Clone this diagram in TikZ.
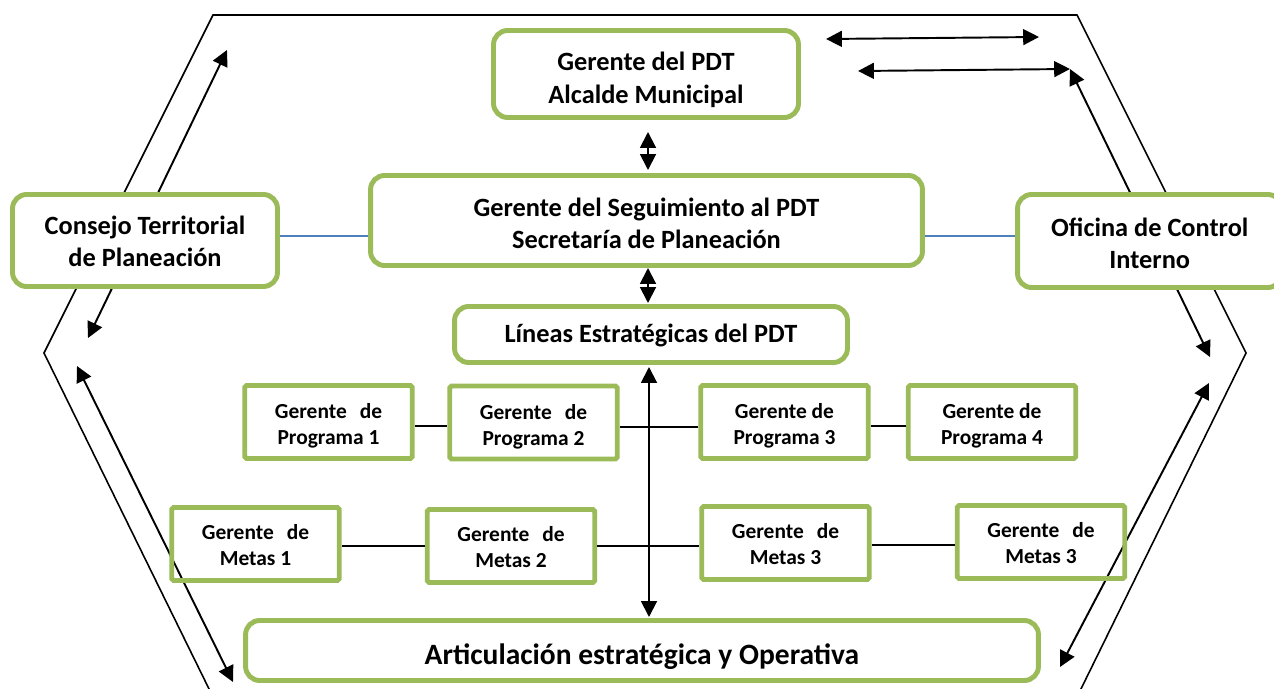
\documentclass[tikz,border=0pt]{standalone}
\usepackage{fontspec}
\setmainfont{Carlito}
\usetikzlibrary{arrows.meta}
\definecolor{gr}{RGB}{155,187,89}
\definecolor{bl}{RGB}{79,129,189}
\newcommand\GerJ{\makebox[61pt][s]{Gerente de}}
\tikzset{
  bigbox/.style={draw=gr, line width=2.8pt, rounded corners=8pt, fill=white, inner sep=0pt},
  smallbox/.style={draw=gr, line width=2.8pt, rounded corners=1pt,
    minimum width=3.35cm, minimum height=1.46cm, inner sep=0pt},
  bigtxt/.style={align=center, inner sep=0pt, font=\fontsize{15}{18.2}\selectfont\bfseries},
  smalltxt/.style={align=center, inner sep=0pt, font=\fontsize{12.2}{14.8}\selectfont\bfseries},
  dbl/.style={line width=1.1pt, {Triangle[width=9pt,length=9pt]}-{Triangle[width=9pt,length=9pt]}},
  hexline/.style={line width=0.9pt},
  link/.style={line width=1.1pt},
  bluelink/.style={line width=1.1pt, draw=bl}
}
\begin{document}
\begin{tikzpicture}[x=0.02cm,y=-0.02cm]
\path[use as bounding box] (0,0) rectangle (1274,689);
\clip (0,0) rectangle (1274,689);

% hexagon
\draw[hexline] (213,15) -- (1077,15) -- (1246,353) -- (1078,695) -- (212,695) -- (44,353) -- cycle;

% diagonal and top arrows
\coordinate (a1s) at (88,338);  \coordinate (a1e) at (227,50);
\coordinate (a2s) at (77,366);  \coordinate (a2e) at (233,682);
\coordinate (a3s) at (1070,69); \coordinate (a3e) at (1210,357);
\coordinate (a4s) at (1209,383); \coordinate (a4e) at (1060,667);
\coordinate (h1s) at (826,39);  \coordinate (h1e) at (1039,37);
\coordinate (h2s) at (858,71);  \coordinate (h2e) at (1070,69);
\draw[dbl] (a1s) -- (a1e);
\draw[dbl] (a2s) -- (a2e);
\draw[dbl] (a3s) -- (a3e);
\draw[dbl] (a4s) -- (a4e);
\draw[dbl] (h1s) -- (h1e);
\draw[dbl] (h2s) -- (h2e);

% big boxes
\node[bigbox, minimum width=6.1cm, minimum height=1.74cm] (pdt) at (646,74) {};
\node[bigbox, minimum width=11.04cm, minimum height=1.8cm] (seg) at (646.5,220.5) {};
\node[bigbox, minimum width=5.3cm, minimum height=1.84cm] (con) at (145,240.5) {};
\node[bigbox, minimum width=5.29cm, minimum height=1.86cm] (ofi) at (1149.75,241) {};
\node[bigbox, minimum width=7.86cm, minimum height=1.12cm] (lin) at (651,334.5) {};
\node[bigbox, minimum width=15.86cm, minimum height=1.2cm] (art) at (642,650.5) {};

\node[bigtxt, font=\fontsize{15}{18.8}\selectfont\bfseries] (pdtT) at ([yshift=-3.4pt]pdt.center) {Gerente del PDT\\Alcalde Municipal};
\node[bigtxt] (segT) at ([yshift=-1.7pt]seg.center) {Gerente del Seguimiento al PDT\\Secretaría de Planeación};
\node[bigtxt] (conT) at ([yshift=-0.6pt]con.center) {Consejo Territorial\\de Planeación};
\node[bigtxt] (ofiT) at ([yshift=-1.1pt]ofi.center) {Oficina de Control\\Interno};
\node[bigtxt] (linT) at ([yshift=-0.8pt]lin.center) {Líneas Estratégicas del PDT};
\node[bigtxt, font=\fontsize{16.8}{19.5}\selectfont\bfseries] (artT) at ([yshift=-3.4pt]art.center) {Articulación estratégica y Operativa};

% small boxes
\node[smallbox] (p1) at (328.5,422) {};
\node[smallbox] (p2) at (533.5,422.5) {};
\node[smallbox] (p3) at (784.5,422) {};
\node[smallbox] (p4) at (992,422) {};
\node[smallbox] (m1) at (255.5,544) {};
\node[smallbox] (m2) at (511,546) {};
\node[smallbox] (m3) at (785.5,543) {};
\node[smallbox] (m4) at (1041,542) {};

\node[smalltxt] (p1T) at ([yshift=-2.3pt]p1.center) {\GerJ\\Programa 1};
\node[smalltxt] (p2T) at ([yshift=-2.3pt]p2.center) {\GerJ\\Programa 2};
\node[smalltxt] (p3T) at ([yshift=-2.3pt]p3.center) {Gerente de\\Programa 3};
\node[smalltxt] (p4T) at ([yshift=-2.3pt]p4.center) {Gerente de\\Programa 4};
\node[smalltxt] (m1T) at ([yshift=-0.6pt]m1.center) {\GerJ\\Metas 1};
\node[smalltxt] (m2T) at ([yshift=-0.6pt]m2.center) {\GerJ\\Metas 2};
\node[smalltxt] (m3T) at ([yshift=-0.6pt]m3.center) {\GerJ\\Metas 3};
\node[smalltxt] (m4T) at ([yshift=-0.6pt]m4.center) {\GerJ\\Metas 3};

% vertical arrows
\coordinate (v1a) at (648,132); \coordinate (v1b) at (648,170);
\coordinate (v2a) at (648,268); \coordinate (v2b) at (648,303);
\coordinate (v3a) at (649,367); \coordinate (v3b) at (649,617);
\draw[dbl] (v1a) -- (v1b);
\draw[dbl] (v2a) -- (v2b);
\draw[dbl] (v3a) -- (v3b);

% connectors
\draw[link] ([yshift=-2.3pt]p1.east) -- ([yshift=-2.3pt]p1.east -| p2.west);
\draw[link] ([yshift=-2.3pt]p2.east) -- ([yshift=-2.3pt]p2.east -| p3.west);
\draw[link] ([yshift=-2.3pt]p3.east) -- ([yshift=-2.3pt]p3.east -| p4.west);
\draw[link] ([yshift=-1.2pt]m1.east) -- ([yshift=-1.2pt]m1.east -| m2.west);
\draw[link] (m2.east) -- (m2.east -| m3.west);
\draw[link] ([yshift=-1pt]m3.east) -- ([yshift=-1pt]m3.east -| m4.west);
\draw[bluelink] ([yshift=2.3pt]con.east) -- ([yshift=2.3pt]con.east -| seg.west);
\draw[bluelink] ([yshift=-9pt]seg.east) -- ([yshift=-9pt]seg.east -| ofi.west);
\end{tikzpicture}
\end{document}
